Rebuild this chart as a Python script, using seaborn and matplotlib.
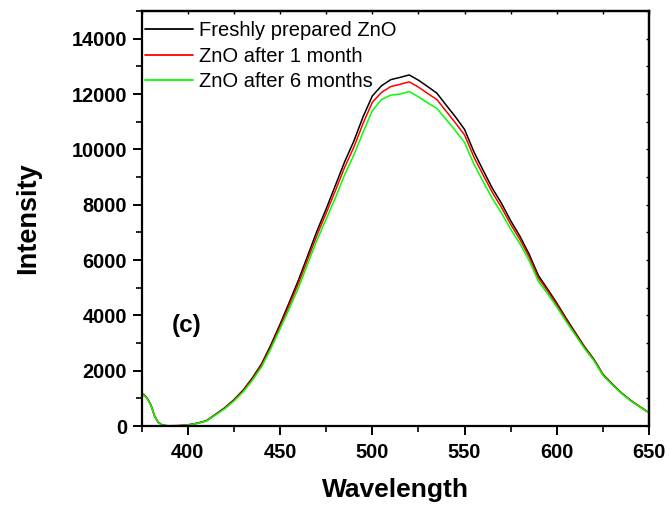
import matplotlib
matplotlib.use("Agg")
import matplotlib.pyplot as plt
from matplotlib.ticker import MultipleLocator
import seaborn as sns
import pandas as pd

# Photoluminescence spectra of ZnO samples
wavelength = [375, 376, 378, 380, 382, 384, 386, 388, 390, 395, 400, 405, 410,
              415, 420, 425, 430, 435, 440, 445, 450, 455, 460, 465, 470, 475,
              480, 485, 490, 495, 500, 505, 510, 515, 520, 525, 530, 535, 540,
              545, 550, 555, 560, 565, 570, 575, 580, 585, 590, 595, 600, 605,
              610, 615, 620, 625, 630, 635, 640, 645, 650]

fresh = [1060, 1150, 1000, 760, 360, 130, 40, 15, 10, 15, 40, 100, 190,
         420, 660, 950, 1300, 1740, 2250, 2930, 3680, 4470, 5280, 6160, 7050, 7850,
         8700, 9550, 10300, 11180, 11930, 12300, 12520, 12600, 12690, 12500, 12270, 12030, 11600,
         11180, 10720, 9920, 9250, 8600, 8050, 7420, 6860, 6210, 5440, 4950, 4440, 3900,
         3380, 2870, 2420, 1870, 1520, 1200, 930, 700, 480]

one_month = [1050, 1140, 990, 750, 355, 125, 38, 13, 8, 13, 38, 95, 183,
             410, 645, 930, 1270, 1700, 2200, 2860, 3600, 4370, 5160, 6030, 6900, 7690,
             8510, 9350, 10080, 10940, 11700, 12060, 12270, 12350, 12440, 12250, 12020, 11800, 11380,
             10960, 10520, 9730, 9080, 8450, 7900, 7290, 6740, 6110, 5350, 4880, 4380, 3850,
             3340, 2840, 2400, 1850, 1510, 1190, 920, 695, 475]

six_months = [1040, 1120, 980, 740, 350, 120, 35, 10, 5, 10, 35, 90, 175,
              395, 620, 900, 1230, 1650, 2140, 2790, 3510, 4240, 5000, 5860, 6720, 7480,
              8250, 9080, 9800, 10620, 11400, 11800, 11960, 12000, 12090, 11900, 11680, 11480, 11080,
              10680, 10250, 9480, 8840, 8230, 7700, 7120, 6590, 5980, 5230, 4780, 4300, 3780,
              3290, 2800, 2370, 1830, 1490, 1180, 910, 690, 470]

labels = ["Freshly prepared ZnO", "ZnO after 1 month", "ZnO after 6 months"]
colors = ["#000000", "#ff0000", "#00ff00"]

df = pd.concat([
    pd.DataFrame({"Wavelength": wavelength, "Intensity": vals, "Sample": lab})
    for vals, lab in zip([fresh, one_month, six_months], labels)
])

sns.set_style("ticks")
plt.rcParams["font.family"] = ["Liberation Sans", "DejaVu Sans"]
plt.rcParams.update({
    "text.color": "black",
    "axes.labelcolor": "black",
    "xtick.color": "black",
    "ytick.color": "black",
    "axes.edgecolor": "black",
})

fig = plt.figure(figsize=(6.69, 5.08), dpi=100)
ax = fig.add_axes([0.2118, 0.1614, 0.7584, 0.8169])

sns.lineplot(data=df, x="Wavelength", y="Intensity", hue="Sample",
             palette=colors, hue_order=labels, linewidth=1.1, ax=ax,
             sort=False, estimator=None)

ax.set_xlim(375, 650)
ax.set_ylim(0, 15000)
ax.xaxis.set_major_locator(MultipleLocator(50))
ax.xaxis.set_minor_locator(MultipleLocator(25))
ax.yaxis.set_major_locator(MultipleLocator(2000))
ax.yaxis.set_minor_locator(MultipleLocator(1000))
ax.set_xticks([400, 450, 500, 550, 600, 650])

for s in ax.spines.values():
    s.set_linewidth(1.6)
    s.set_visible(True)

ax.tick_params(axis="both", which="major", direction="out", length=6.5, width=1.4,
               labelsize=14.4, pad=4)
ax.tick_params(axis="both", which="minor", direction="out", length=4, width=1.2)
ax.tick_params(axis="x", which="major", pad=6)
for lab in ax.get_xticklabels() + ax.get_yticklabels():
    lab.set_fontweight("bold")

# inward ticks on the top and right frame
ax_top = ax.secondary_xaxis("top")
ax_top.xaxis.set_major_locator(MultipleLocator(50))
ax_top.xaxis.set_minor_locator(MultipleLocator(25))
ax_top.tick_params(which="both", direction="in", length=2, width=1, labeltop=False)
ax_top.spines["top"].set_linewidth(1.6)
ax_right = ax.secondary_yaxis("right")
ax_right.yaxis.set_major_locator(MultipleLocator(2000))
ax_right.yaxis.set_minor_locator(MultipleLocator(1000))
ax_right.tick_params(which="both", direction="in", length=2, width=1, labelright=False)
ax_right.spines["right"].set_linewidth(1.6)

ax.set_xlabel("Wavelength", fontsize=19, fontweight="bold", labelpad=11)
ax.set_ylabel("Intensity", fontsize=19.5, fontweight="bold", labelpad=22)

ax.text(399.6, 3620, "(c)", fontsize=17.5, fontweight="bold", ha="center", va="center")

leg = ax.legend(loc="upper left", frameon=False, fontsize=14.5, handlelength=2.4,
                handletextpad=0.3, labelspacing=0.33, borderaxespad=0.0,
                borderpad=0.15, bbox_to_anchor=(0.0, 0.983))
for line in leg.get_lines():
    line.set_linewidth(1.3)

fig.savefig("out.png", dpi=100)
